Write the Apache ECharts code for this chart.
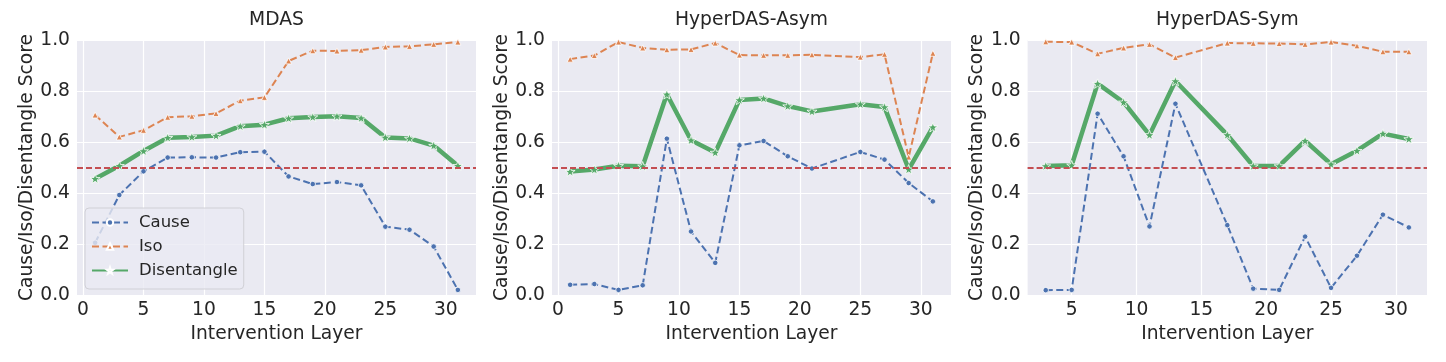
<!DOCTYPE html>
<html>
<head>
<meta charset="utf-8">
<script src="https://cdn.jsdelivr.net/npm/echarts@6/dist/echarts.min.js"></script>
<style>
html,body{margin:0;padding:0;background:#fff;}
#chart{width:1446px;height:362px;}
</style>
</head>
<body>
<div id="chart"></div>
<script>
// ---- data ----
const panelTitles = ['MDAS', 'HyperDAS-Asym', 'HyperDAS-Sym'];
const seriesNames = ['Cause', 'Iso', 'Disentangle'];
const xTicks = [0, 5, 10, 15, 20, 25, 30];
const yTicks = [0, 0.2, 0.4, 0.6, 0.8, 1.0];

const mdasLayers = [1, 3, 5, 7, 9, 11, 13, 15, 17, 19, 21, 23, 25, 27, 29, 31];
const mdasCause = [0.205, 0.392, 0.485, 0.539, 0.540, 0.539, 0.560, 0.562, 0.465, 0.435, 0.443, 0.430, 0.268, 0.256, 0.190, 0.020];
const mdasIso = [0.706, 0.620, 0.646, 0.697, 0.701, 0.712, 0.762, 0.775, 0.918, 0.958, 0.957, 0.960, 0.973, 0.975, 0.983, 0.992];
const mdasDis = [0.456, 0.507, 0.565, 0.617, 0.620, 0.625, 0.662, 0.668, 0.693, 0.698, 0.701, 0.694, 0.618, 0.614, 0.586, 0.507];

const asymLayers = [1, 3, 5, 7, 9, 11, 13, 15, 17, 19, 21, 25, 27, 29, 31];
const asymCause = [0.040, 0.043, 0.020, 0.038, 0.613, 0.249, 0.126, 0.587, 0.604, 0.544, 0.496, 0.561, 0.531, 0.439, 0.367];
const asymIso = [0.925, 0.939, 0.992, 0.969, 0.962, 0.963, 0.988, 0.941, 0.940, 0.940, 0.942, 0.933, 0.944, 0.541, 0.948];
const asymDis = [0.484, 0.492, 0.507, 0.505, 0.787, 0.607, 0.559, 0.765, 0.771, 0.741, 0.720, 0.748, 0.737, 0.493, 0.658];

const symLayers = [3, 5, 7, 9, 11, 13, 17, 19, 21, 23, 25, 27, 29, 31];
const symCause = [0.019, 0.020, 0.711, 0.544, 0.269, 0.750, 0.274, 0.025, 0.020, 0.229, 0.028, 0.154, 0.315, 0.265];
const symIso = [0.993, 0.992, 0.946, 0.969, 0.983, 0.931, 0.988, 0.987, 0.986, 0.983, 0.992, 0.977, 0.954, 0.954];
const symDis = [0.506, 0.509, 0.829, 0.756, 0.628, 0.839, 0.628, 0.506, 0.506, 0.605, 0.513, 0.566, 0.633, 0.612];

const threshold = 0.5;
const xLabel = 'Intervention Layer';
const yLabel = 'Cause/Iso/Disentangle Score';

// ---- layout / style ----
const FONT = 'DejaVu Sans';
const FS = 18.7;
const TXT = '#262626';
const COLORS = ['#4C72B0', '#DD8452', '#55A868'];
const STAR = 'path://M0,-10L2.35,-3.24L9.51,-3.09L3.8,1.24L5.88,8.09L0,4L-5.88,8.09L-3.8,1.24L-9.51,-3.09L-2.35,-3.24Z';

const panels = [
  {layers: mdasLayers, vals: [mdasCause, mdasIso, mdasDis], left: 77, width: 399, xmin: -0.5, xmax: 32.5},
  {layers: asymLayers, vals: [asymCause, asymIso, asymDis], left: 552, width: 399, xmin: -0.5, xmax: 32.5},
  {layers: symLayers, vals: [symCause, symIso, symDis], left: 1027.6, width: 399.4, xmin: 1.6, xmax: 32.4}
];

const grids = [], xAxes = [], yAxes = [], series = [], titles = [];
panels.forEach((p, i) => {
  grids.push({left: p.left, width: p.width, top: 40, height: 255, show: true, backgroundColor: '#EAEAF2', borderWidth: 0});
  titles.push({text: panelTitles[i], left: p.left + p.width / 2, top: 11, textAlign: 'center', padding: 0,
    textStyle: {fontFamily: FONT, fontSize: FS, fontWeight: 'normal', color: TXT}});
  const ticks = xTicks.filter(t => t >= p.xmin && t <= p.xmax);
  xAxes.push({
    type: 'value', gridIndex: i, min: p.xmin, max: p.xmax,
    name: xLabel, nameLocation: 'middle', nameGap: 23,
    nameTextStyle: {fontFamily: FONT, fontSize: FS, color: TXT},
    axisLine: {show: false},
    axisTick: {show: false, customValues: ticks},
    axisLabel: {customValues: ticks, fontFamily: FONT, fontSize: FS, color: TXT, margin: 6},
    splitLine: {show: true, lineStyle: {color: '#ffffff', width: 1.2}}
  });
  yAxes.push({
    type: 'value', gridIndex: i, min: 0, max: 1, interval: 0.2,
    name: yLabel, nameLocation: 'middle', nameGap: 38,
    nameTextStyle: {fontFamily: FONT, fontSize: FS, color: TXT},
    axisLine: {show: false}, axisTick: {show: false},
    axisLabel: {fontFamily: FONT, fontSize: FS, color: TXT, margin: 7, formatter: v => v.toFixed(1)},
    splitLine: {show: true, lineStyle: {color: '#ffffff', width: 1.2}}
  });
  const styles = [
    {symbol: 'circle', size: 5.5, width: 2, type: [7, 3.5]},
    {symbol: 'triangle', size: 6, width: 2, type: [7, 3.5]},
    {symbol: STAR, size: 10, width: 4.5, type: 'solid'}
  ];
  p.vals.forEach((vals, k) => {
    const s = styles[k];
    const ser = {
      name: seriesNames[k], type: 'line', xAxisIndex: i, yAxisIndex: i,
      data: p.layers.map((x, j) => [x, vals[j]]),
      symbol: s.symbol, symbolSize: s.size, symbolKeepAspect: true, showSymbol: true,
      itemStyle: {color: COLORS[k], borderColor: '#ffffff', borderWidth: 0.8},
      lineStyle: {color: COLORS[k], width: s.width, type: s.type},
      z: 2 + k, animation: false
    };
    if (k === 2) {
      ser.markLine = {
        silent: true, symbol: ['none', 'none'], label: {show: false},
        lineStyle: {color: '#C44E52', width: 1.8, type: [6, 3]},
        data: [{yAxis: threshold}], z: 10, animation: false
      };
    }
    series.push(ser);
  });
});

const chart = echarts.init(document.getElementById('chart'), null, {renderer: 'canvas'});
chart.setOption({
  animation: false,
  backgroundColor: '#ffffff',
  title: titles,
  grid: grids,
  xAxis: xAxes,
  yAxis: yAxes,
  legend: {
    data: seriesNames, orient: 'vertical', left: 85, top: 208,
    itemWidth: 36, itemHeight: 8, itemGap: 7,
    padding: [6, 6, 10, 6],
    backgroundColor: 'rgba(234,234,242,0.8)', borderColor: '#d0d0d6', borderWidth: 1, borderRadius: 4,
    textStyle: {fontFamily: FONT, fontSize: 16.5, color: TXT, padding: [0, 0, 0, 6]}
  },
  series: series
});
</script>
</body>
</html>
